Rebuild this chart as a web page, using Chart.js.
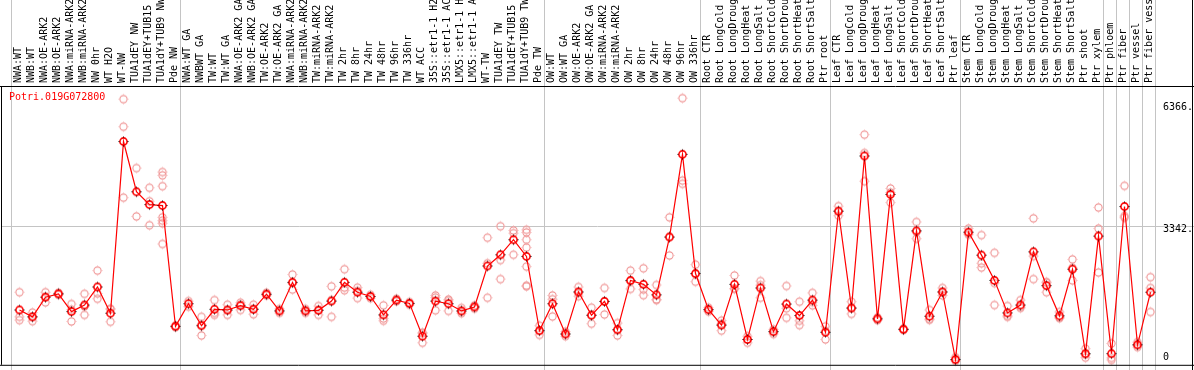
<!DOCTYPE html>
<html>
<head>
<meta charset="utf-8">
<title>Potri.019G072800</title>
<script src="https://cdn.jsdelivr.net/npm/chart.js@4.4.0/dist/chart.umd.min.js"></script>
<style>
  html, body { margin: 0; padding: 0; background: #ffffff; }
  #chart { display: block; }
</style>
</head>
<body>
<canvas id="chart" width="1194" height="370"></canvas>
<script>
"use strict";

// Gene shown in the panel
const geneName = 'Potri.019G072800';

// Sample names (one per column, left to right)
const categories = [
  'NWA:WT', 'NWB:WT', 'NWA:OE-ARK2', 'NWB:OE-ARK2', 'NWA:miRNA-ARK2', 'NWB:miRNA-ARK2',
  'NW 0hr', 'WT H2O', 'WT-NW', 'TUA1dEY NW', 'TUA1dEY+TUB15 NW', 'TUA1dY+TUB9 NW', 'Pde NW',
  'NWA:WT GA', 'NWBWT GA', 'TW:WT', 'TW:WT GA', 'NWA:OE-ARK2 GA', 'NWB:OE-ARK2 GA',
  'TW:OE-ARK2', 'TW:OE-ARK2 GA', 'NWA:miRNA-ARK2 GA', 'NWB:miRNA-ARK2 GA', 'TW:miRNA-ARK2',
  'TW:miRNA-ARK2', 'TW 2hr', 'TW 8hr', 'TW 24hr', 'TW 48hr', 'TW 96hr', 'TW 336hr', 'WT ACC',
  '35S::etr1-1 H2O', '35S::etr1-1 ACC', 'LMX5::etr1-1 H2O', 'LMX5::etr1-1 ACC', 'WT-TW',
  'TUA1dEY TW', 'TUA1dEY+TUB15 TW', 'TUA1dY+TUB9 TW', 'Pde TW',
  'OW:WT', 'OW:WT GA', 'OW:OE-ARK2', 'OW:OE-ARK2 GA', 'OW:miRNA-ARK2', 'OW:miRNA-ARK2',
  'OW 2hr', 'OW 8hr', 'OW 24hr', 'OW 48hr', 'OW 96hr', 'OW 336hr',
  'Root CTR', 'Root LongCold', 'Root LongDrought', 'Root LongHeat', 'Root LongSalt',
  'Root ShortCold', 'Root ShortDrought', 'Root ShortHeat', 'Root ShortSalt', 'Ptr root',
  'Leaf CTR', 'Leaf LongCold', 'Leaf LongDrought', 'Leaf LongHeat', 'Leaf LongSalt',
  'Leaf ShortCold', 'Leaf ShortDrought', 'Leaf ShortHeat', 'Leaf ShortSalt', 'Ptr leaf',
  'Stem CTR', 'Stem LongCold', 'Stem LongDrought', 'Stem LongHeat', 'Stem LongSalt',
  'Stem ShortCold', 'Stem ShortDrought', 'Stem ShortHeat', 'Stem ShortSalt', 'Ptr shoot',
  'Ptr xylem', 'Ptr phloem', 'Ptr fiber', 'Ptr vessel', 'Ptr fiber vessel'
];

// Mean expression per sample (the red line)
const meanValues = [
  1263, 1092, 1581, 1663, 1222, 1385, 1834, 1182, 5444, 4197, 3879, 3855, 856,
  1418, 872, 1280, 1263, 1369, 1280, 1654, 1239, 1948, 1239, 1255, 1483, 1948,
  1703, 1597, 1141, 1508, 1426, 611, 1483, 1418, 1239, 1337, 2355, 2632, 3007, 2592, 750,
  1418, 668, 1711, 1133, 1475, 774, 1997, 1899, 1638, 3073, 5126, 2168,
  1271, 888, 1899, 530, 1809, 725, 1410, 1125, 1508, 709,
  3716, 1312, 5086, 1043, 4132, 782, 3227, 1108, 1711, 33,
  3195, 2624, 1997, 1190, 1385, 2706, 1866, 1117, 2274, 179,
  3097, 179, 3830, 399, 1703
];

// Single replicates per sample (the pale circles)
const replicates = [
  [1703, 1092, 1011], [1198, 1092, 986], [1703, 1581, 1451], [1690, 1663, 1640],
  [1410, 1270, 978], [1663, 1350, 1141], [2241, 1671, 1540], [1296, 1280, 970],
  [6496, 5811, 4051], [4784, 3586], [4295, 3961, 3366],
  [4686, 4605, 4336, 3562, 3480, 3415, 2901], [880, 830],
  [1483, 1345], [1092, 900, 628], [1508, 1190, 1141], [1394, 1255, 1141],
  [1443, 1400, 1263], [1394, 1290, 1157], [1690, 1654, 1620], [1290, 1239, 1190],
  [2143, 1930, 1769], [1290, 1239, 1190], [1361, 1263, 1141], [1850, 1508, 1092],
  [2274, 1818, 1752], [1817, 1735, 1557], [1640, 1597, 1555], [1377, 1050, 994],
  [1540, 1508, 1476], [1460, 1426, 1392], [693, 690, 448], [1622, 1570, 1255],
  [1524, 1490, 1239], [1312, 1222, 1182], [1377, 1337, 1296], [3056, 2421, 1565],
  [3342, 2502, 2029], [3236, 3170, 2632], [3252, 3187, 3007, 2812, 2339, 1866, 1850],
  [872, 750, 644],
  [1622, 1530, 1100], [725, 668, 611], [1834, 1690, 1606], [1320, 1133, 921],
  [1809, 1475, 1149], [937, 760, 628], [2241, 1970, 1785], [2298, 1769, 1630],
  [1883, 1524, 1510], [3562, 3073, 2616], [6520, 4474, 4393], [2388, 2150, 1964],
  [1320, 1271, 1222], [1000, 915, 750], [2119, 1795, 1785], [612, 530, 448],
  [1980, 1880, 1565], [782, 725, 668], [1858, 1305, 1068], [1467, 994, 888],
  [1687, 1460, 1377], [856, 740, 530],
  [3839, 3716, 3602], [1467, 1300, 1165], [5615, 5159, 4458], [1080, 1043, 1010],
  [4279, 4180, 3928], [800, 782, 765], [3447, 3200, 3032], [1263, 1040, 1019],
  [1809, 1700, 1625], [90, 20, 0],
  [3284, 3170, 3130], [3121, 2421, 2315], [2681, 1932, 1385], [1361, 1117, 1092],
  [1508, 1337, 1312], [3537, 2600, 2029], [1956, 1940, 1703], [1214, 1076, 1060],
  [2518, 2307, 1997], [302, 155, 80],
  [3806, 3284, 2192], [432, 73, 24], [4344, 3594, 3552], [465, 390, 342], [2078, 1809, 1214]
];

// Where each sample group starts (vertical separators)
const groupStarts = [0, 13, 41, 53, 63, 73, 84, 85, 86, 87, 88];

// Right hand axis
const yTickValues = [0, 3342, 6366];
const yTickLabels = ['0', '3342.', '6366.'];


const _FONT = '10px "DejaVu Sans Mono", "Liberation Mono", monospace';
const _GRAY = '#c4c4c4';


// Small open circle with four short tick marks, used as point style
function _make_mark(_options) {
  let _c = document.createElement('canvas');
  _c.width = 13;
  _c.height = 13;
  let _ctx = _c.getContext('2d');

  _ctx.strokeStyle = _options.color;
  _ctx.lineWidth = _options.lineWidth;
  _ctx.beginPath();
  _ctx.arc(6.5, 6.5, 3.6, 0, 2 * Math.PI);
  _ctx.stroke();

  // only a pixel just outside the ring
  _ctx.fillStyle = _options.tickColor;
  _ctx.fillRect(6, 1.5, 1, 1);
  _ctx.fillRect(6, 10.5, 1, 1);
  _ctx.fillRect(1.5, 6, 1, 1);
  _ctx.fillRect(10.5, 6, 1, 1);
  return _c;
} // EndOf _make_mark


const _mean_mark = _make_mark({ color: '#ff0000', tickColor: '#000000', lineWidth: 1.6 });
const _rep_mark = _make_mark({ color: '#f09898', tickColor: '#f4b4b4', lineWidth: 1.1 });


// build datasets from the arrays above
let _mean_points = meanValues.map(function(_v, _i) { return { x: _i, y: _v }; });
let _rep_points = [];
replicates.forEach(function(_list, _i) {
  _list.forEach(function(_v) { _rep_points.push({ x: _i, y: _v }); });
});


// Decorations: separators, grid line, frame and all texts
const _decor_plugin = {
  id: 'decor',

  beforeDatasetsDraw(chart) {
    let _ctx = chart.ctx;
    let _x = chart.scales.x;
    let _y = chart.scales.y;
    _ctx.save();
    _ctx.strokeStyle = _GRAY;
    _ctx.lineWidth = 1;

    // group separators run the whole height
    groupStarts.forEach(function(_g) {
      let _px = Math.round(_x.getPixelForValue(_g - 0.5) - 1.7) + 0.5;
      _ctx.beginPath();
      _ctx.moveTo(_px, 0);
      _ctx.lineTo(_px, chart.height);
      _ctx.stroke();
    });

    // middle grid line, through the label column too
    let _py = Math.round(_y.getPixelForValue(yTickValues[1])) + 0.5;
    _ctx.beginPath();
    _ctx.moveTo(1, _py);
    _ctx.lineTo(chart.width, _py);
    _ctx.stroke();
    _ctx.restore();
  },

  afterDraw(chart) {
    let _ctx = chart.ctx;
    let _x = chart.scales.x;
    let _y = chart.scales.y;
    let _area = chart.chartArea;
    _ctx.save();

    // frame
    _ctx.strokeStyle = '#000000';
    _ctx.lineWidth = 1;
    _ctx.beginPath();
    _ctx.moveTo(0, _area.top + 0.5);
    _ctx.lineTo(chart.width, _area.top + 0.5);
    _ctx.moveTo(1.5, _area.top);
    _ctx.lineTo(1.5, _area.bottom);
    _ctx.moveTo(0, _area.bottom + 0.5);
    _ctx.lineTo(chart.width, _area.bottom + 0.5);
    _ctx.moveTo(chart.width - 1.5, 0);
    _ctx.lineTo(chart.width - 1.5, chart.height);
    _ctx.stroke();

    _ctx.font = _FONT;
    _ctx.textBaseline = 'middle';

    // sample names, rotated, reading upwards
    _ctx.fillStyle = '#000000';
    _ctx.textAlign = 'left';
    categories.forEach(function(_name, _i) {
      let _px = _x.getPixelForValue(_i) - 1.5;
      _ctx.save();
      _ctx.translate(_px, _area.top - 3);
      _ctx.rotate(-Math.PI / 2);
      _ctx.fillText(_name, 0, 0);
      _ctx.restore();
    });

    // right axis labels
    yTickValues.forEach(function(_v, _i) {
      let _py = _y.getPixelForValue(_v);
      _py = (_v === 0) ? _py - 3 : _py + 3.5;
      _ctx.fillText(yTickLabels[_i], 1163, _py);
    });

    // gene name
    _ctx.fillStyle = '#ff0000';
    _ctx.fillText(geneName, 9, _area.top + 11);

    _ctx.restore();
  }
}; // EndOf _decor_plugin


new Chart(document.getElementById('chart'), {
  type: 'line',
  data: {
    datasets: [
      {
        label: 'mean',
        data: _mean_points,
        borderColor: '#ff0000',
        borderWidth: 1.2,
        pointStyle: _mean_mark,
        pointRadius: 4,
        tension: 0,
        clip: false
      },
      {
        label: 'replicates',
        data: _rep_points,
        showLine: false,
        pointStyle: _rep_mark,
        pointRadius: 4,
        clip: false
      }
    ]
  },
  options: {
    responsive: false,
    devicePixelRatio: 1,
    animation: false,
    layout: { padding: { left: 13, right: 37, top: 86, bottom: 1 } },
    scales: {
      x: { type: 'linear', min: -0.5, max: 87.5, display: false },
      y: { type: 'linear', min: -98, max: 6822, display: false }
    },
    plugins: {
      legend: { display: false },
      tooltip: { enabled: false }
    }
  },
  plugins: [_decor_plugin]
});
</script>
</body>
</html>
